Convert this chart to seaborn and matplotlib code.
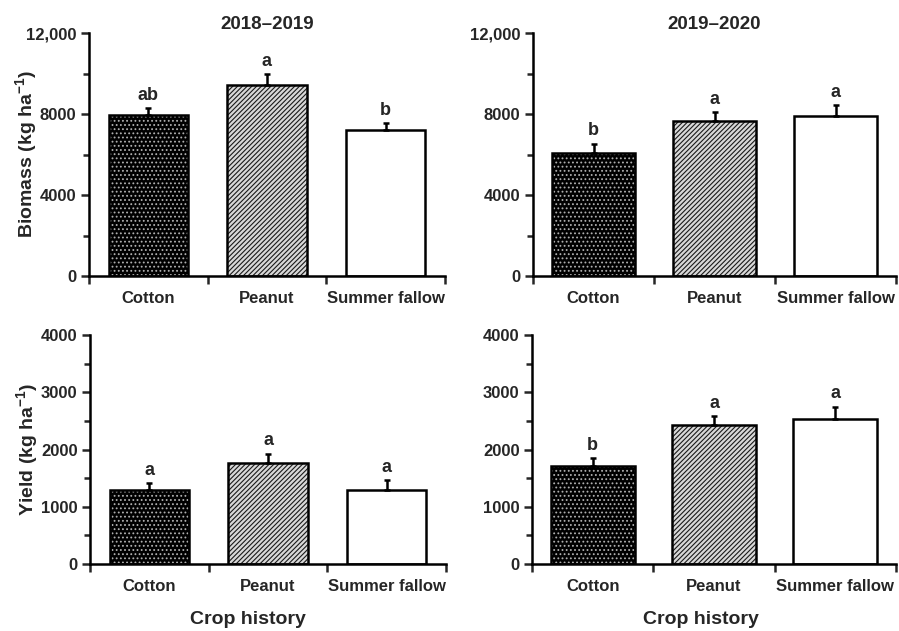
import numpy as np
import matplotlib
matplotlib.use("Agg")
import matplotlib.pyplot as plt
from matplotlib.patches import Rectangle
from matplotlib.ticker import FixedLocator, MultipleLocator
import seaborn as sns

# ---- data -------------------------------------------------------------
crops = ["Cotton", "Peanut", "Summer fallow"]
seasons = ["2018\u20132019", "2019\u20132020"]

biomass_1819 = [7950, 9450, 7220]
biomass_1819_se = [330, 530, 320]
biomass_1819_letters = ["ab", "a", "b"]

biomass_1920 = [6070, 7650, 7900]
biomass_1920_se = [470, 450, 550]
biomass_1920_letters = ["b", "a", "a"]

yield_1819 = [1300, 1760, 1290]
yield_1819_se = [110, 170, 180]
yield_1819_letters = ["a", "a", "a"]

yield_1920 = [1720, 2420, 2530]
yield_1920_se = [125, 170, 220]
yield_1920_letters = ["b", "a", "a"]

biomass_ticks = [0, 4000, 8000, 12000]
biomass_ticklabels = ["0", "4000", "8000", "12,000"]
yield_ticks = [0, 1000, 2000, 3000, 4000]
yield_ticklabels = ["0", "1000", "2000", "3000", "4000"]

# ---- style ------------------------------------------------------------
sns.set_theme(style="ticks")
plt.rcParams["font.family"] = ["Liberation Sans", "DejaVu Sans"]
plt.rcParams["font.weight"] = "bold"
plt.rcParams["mathtext.fontset"] = "custom"
plt.rcParams["mathtext.rm"] = "Liberation Sans:bold"
plt.rcParams["mathtext.bf"] = "Liberation Sans:bold"
plt.rcParams["hatch.linewidth"] = 0.8

W, H = 899, 631
fig = plt.figure(figsize=(W / 100, H / 100), dpi=100)


def px_axes(left, right, top, bottom):
    return fig.add_axes([left / W, 1 - bottom / H, (right - left) / W, (bottom - top) / H])


styles = [
    dict(face="black", hatch="....", hcol="#b0b0b0"),
    dict(face="#d8d8d8", hatch="///////", hcol="#1a1a1a"),
    dict(face="white", hatch=None, hcol="black"),
]


def panel(ax, values, errs, letters, ymax, ticks, ticklabels, minor, width):
    sns.barplot(x=crops, y=values, hue=crops, legend=False, ax=ax, width=width,
                palette=[s["face"] for s in styles], saturation=1)
    bars = list(ax.patches)
    centers = []
    for bar, st in zip(bars, styles):
        bar.set_linewidth(0)
        if st["hatch"]:
            bar.set_hatch(st["hatch"])
            bar.set_edgecolor(st["hcol"])
        ax.add_patch(Rectangle(bar.get_xy(), bar.get_width(), bar.get_height(),
                               fill=False, edgecolor="black", linewidth=1.8, zorder=3))
        centers.append(bar.get_x() + bar.get_width() / 2)
    ax.errorbar(centers, values, yerr=[np.zeros(len(errs)), errs], fmt="none",
                ecolor="black", elinewidth=1.8, capsize=2.5, capthick=1.8, zorder=2)
    for c, v, e, lab in zip(centers, values, errs, letters):
        ax.annotate(lab, (c, v + e), xytext=(0, 3), textcoords="offset points",
                    ha="center", va="bottom", fontsize=13, fontweight="bold")

    ax.set_ylim(0, ymax)
    ax.set_xlim(-0.5, 2.5)
    ax.yaxis.set_major_locator(FixedLocator(ticks))
    ax.set_yticklabels(ticklabels)
    ax.yaxis.set_minor_locator(MultipleLocator(minor))
    ax.xaxis.set_major_locator(FixedLocator([-0.5, 0.5, 1.5, 2.5]))
    ax.xaxis.set_major_formatter(plt.NullFormatter())
    ax.set_xticks([0, 1, 2], minor=True)
    ax.set_xticklabels(crops, minor=True)
    ax.tick_params(axis="x", which="major", direction="out", length=6, width=1.8)
    ax.tick_params(axis="x", which="minor", length=0, pad=11, labelsize=12)
    ax.tick_params(axis="y", which="major", direction="out", length=6, width=1.8,
                   labelsize=12, pad=3)
    ax.tick_params(axis="y", which="minor", direction="out", length=4, width=1.8)
    for lab in ax.get_xticklabels(minor=True) + ax.get_yticklabels():
        lab.set_fontweight("bold")
    for s in ("top", "right"):
        ax.spines[s].set_visible(False)
    for s in ("left", "bottom"):
        ax.spines[s].set_linewidth(1.8)
        ax.spines[s].set_color("black")
    ax.set_xlabel("")
    ax.set_ylabel("")
    ax.set_facecolor("white")


ax_tl = px_axes(89, 445, 33, 276)
ax_tr = px_axes(533, 896, 33, 276)
ax_bl = px_axes(90, 446, 335, 564)
ax_br = px_axes(532, 896, 335, 564)

panel(ax_tl, biomass_1819, biomass_1819_se, biomass_1819_letters, 12000,
      biomass_ticks, biomass_ticklabels, 2000, 0.67)
panel(ax_tr, biomass_1920, biomass_1920_se, biomass_1920_letters, 12000,
      biomass_ticks, biomass_ticklabels, 2000, 0.69)
panel(ax_bl, yield_1819, yield_1819_se, yield_1819_letters, 4000,
      yield_ticks, yield_ticklabels, 500, 0.67)
panel(ax_br, yield_1920, yield_1920_se, yield_1920_letters, 4000,
      yield_ticks, yield_ticklabels, 500, 0.69)

ax_tl.set_title(seasons[0], fontsize=13.5, fontweight="bold", pad=3)
ax_tr.set_title(seasons[1], fontsize=13.5, fontweight="bold", pad=3)

ax_tl.set_ylabel(r"Biomass (kg ha$^{\mathbf{-1}}$)", fontsize=14, fontweight="bold")
ax_bl.set_ylabel(r"Yield (kg ha$^{\mathbf{-1}}$)", fontsize=14, fontweight="bold")
ax_tl.yaxis.set_label_coords(-0.138, 0.5)
ax_bl.yaxis.set_label_coords(-0.138, 0.5)

ax_bl.set_xlabel("Crop history", fontsize=14, fontweight="bold")
ax_br.set_xlabel("Crop history", fontsize=14, fontweight="bold")
ax_bl.xaxis.set_label_coords(0.445, -0.205)
ax_br.xaxis.set_label_coords(0.464, -0.205)

fig.patch.set_facecolor("white")
fig.savefig("out.png", dpi=100, facecolor="white")
